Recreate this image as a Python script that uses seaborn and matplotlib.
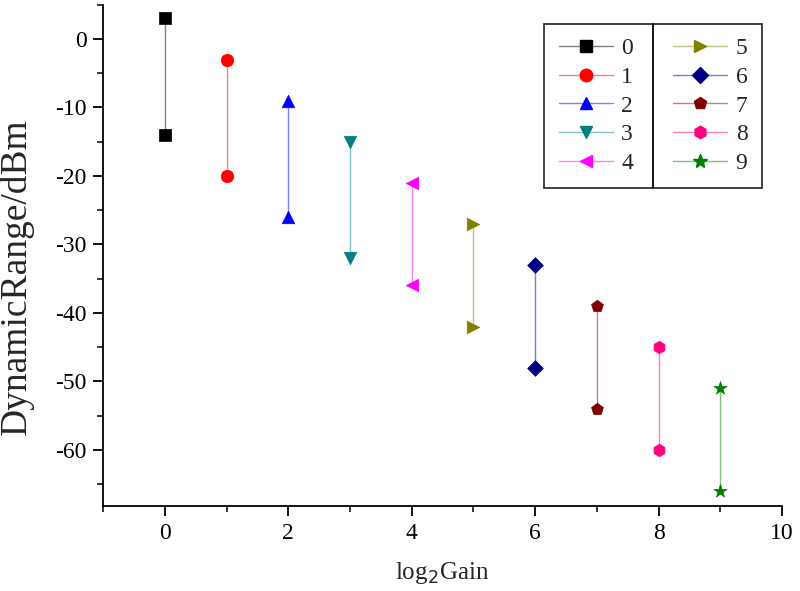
import numpy as np
import pandas as pd
import matplotlib
matplotlib.use("Agg")
import matplotlib.pyplot as plt
from matplotlib.lines import Line2D
from matplotlib.ticker import MultipleLocator
import seaborn as sns

# data
gains = [0, 1, 2, 3, 4, 5, 6, 7, 8, 9]
upper = [3, -3, -9, -15, -21, -27, -33, -39, -45, -51]
lower = [-14, -20, -26, -32, -36, -42, -48, -54, -60, -66]
labels = [str(g) for g in gains]
colors = ["#000000", "#FF0000", "#0000FF", "#008080", "#FF00FF",
          "#808000", "#000080", "#800000", "#FF0080", "#008000"]
markers = ["s", "o", "^", "v", "<", ">", "D", "p", "h", "*"]
msizes = [8, 9, 9, 9, 9, 9, 8, 9, 9, 10]

rows = []
for g, lab, u, l in zip(gains, labels, upper, lower):
    rows.append({"gain": g, "range": u, "series": lab})
    rows.append({"gain": g, "range": l, "series": lab})
df = pd.DataFrame(rows)


def lighten(c, f=0.5):
    rgb = np.array(matplotlib.colors.to_rgb(c))
    return tuple(rgb + (1 - rgb) * f)


light = [lighten(c) for c in colors]

sns.set_theme(style="ticks")
plt.rcParams["font.family"] = ["Liberation Serif", "DejaVu Serif"]
plt.rcParams["axes.unicode_minus"] = False

fig = plt.figure(figsize=(8, 5.91), dpi=100)
ax = fig.add_axes([0.129, 0.144, 0.8485, 0.848])

sns.lineplot(data=df, x="gain", y="range", hue="series", palette=light,
             hue_order=labels, lw=1, legend=False, ax=ax, estimator=None,
             units="series")
for lab, c, m, ms in zip(labels, colors, markers, msizes):
    sub = df[df["series"] == lab]
    sns.scatterplot(data=sub, x="gain", y="range", color=c, marker=m,
                    s=(ms * 1.0) ** 2, edgecolor=c, linewidth=0.5,
                    legend=False, ax=ax, zorder=3)

ax.set_xlim(-1, 10)
ax.set_ylim(-68.2, 5)
ax.xaxis.set_major_locator(MultipleLocator(2))
ax.xaxis.set_minor_locator(MultipleLocator(1))
ax.yaxis.set_major_locator(MultipleLocator(10))
ax.yaxis.set_minor_locator(MultipleLocator(5))
ax.tick_params(which="major", direction="out", length=7, width=1.3,
               labelsize=17, colors="black", pad=5)
ax.tick_params(which="minor", direction="out", length=4, width=1.3)
for s in ["top", "right"]:
    ax.spines[s].set_visible(False)
for s in ["left", "bottom"]:
    ax.spines[s].set_linewidth(1.3)
    ax.spines[s].set_color("black")

ax.set_xlabel("log$_2$Gain", fontsize=18, labelpad=12)
ax.set_ylabel("DynamicRange/dBm", fontsize=27)
ax.yaxis.set_label_coords(-0.102, 0.457)

handles = [Line2D([], [], color=lc, lw=1, marker=m, markersize=ms,
                  markerfacecolor=c, markeredgecolor=c)
           for lc, c, m, ms in zip(light, colors, markers, msizes)]
leg = ax.legend(handles, labels, ncol=2, loc="upper right",
                bbox_to_anchor=(0.97, 0.962), borderaxespad=0,
                fontsize=17, frameon=True, fancybox=False, handlelength=2.3,
                columnspacing=1.7, labelspacing=0.3, handletextpad=0.35,
                borderpad=0.6)
leg.get_frame().set_edgecolor("black")
leg.get_frame().set_linewidth(1.3)

fig.canvas.draw()
r = fig.canvas.get_renderer()
lb = leg.get_window_extent(r)
t0 = leg.get_texts()[0].get_window_extent(r)
t5 = leg.get_texts()[5].get_window_extent(r)
hl = (2.3 + 0.35) * 17 * 100 / 72
xdiv = (t0.x1 + (t5.x0 - hl)) / 2
inv = fig.transFigure.inverted()
(x0f, y0f) = inv.transform((xdiv, lb.y0))
(_, y1f) = inv.transform((xdiv, lb.y1))
fig.add_artist(Line2D([x0f, x0f], [y0f, y1f], color="black", lw=1.3,
                      transform=fig.transFigure))

fig.savefig("out.png", dpi=100)
